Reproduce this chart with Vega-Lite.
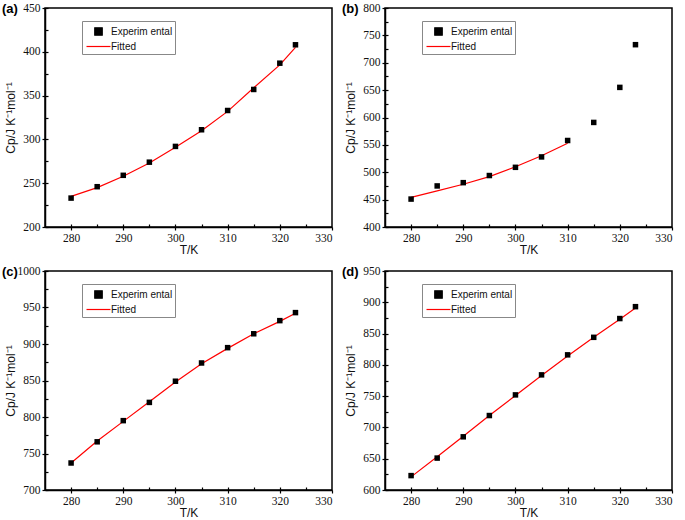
{
  "$schema": "https://vega.github.io/schema/vega-lite/v6.json",
  "padding": {"left": 1, "top": 1, "right": 5, "bottom": 2},
  "background": "white",
  "config": {
    "font": "Liberation Sans",
    "view": {"stroke": "black", "strokeWidth": 1.5},
    "axis": {
      "grid": false,
      "domainColor": "black",
      "domainWidth": 1.5,
      "tickColor": "black",
      "tickWidth": 1.2,
      "tickSize": 3,
      "labelColor": "#111",
      "labelFont": "Liberation Sans Narrow",
      "labelFontSize": 11.5,
      "titleFont": "Liberation Sans",
      "titleFontSize": 12,
      "titleFontWeight": 400,
      "titleColor": "#111"
    },
    "axisX": {"labelPadding": 2, "titlePadding": 1},
    "axisY": {"labelPadding": 2, "titlePadding": 5, "titleX": -28},
    "legend": {
      "orient": "none",
      "legendX": 37,
      "legendY": 13,
      "title": null,
      "strokeColor": "#888",
      "fillColor": "white",
      "padding": 2,
      "rowPadding": 0,
      "labelFont": "Liberation Sans",
      "labelFontSize": 10,
      "labelColor": "#111",
      "symbolSize": 225,
      "symbolStrokeWidth": 1.2,
      "symbolOffset": 6,
      "labelOffset": 4
    },
    "title": {"font": "Liberation Sans", "fontSize": 13, "fontWeight": "bold", "anchor": "start", "frame": "group", "baseline": "alphabetic", "offset": -14, "dx": -43}
  },
  "data": {
    "values": [
      {"panel": "a", "series": "Experim ental", "T": 280, "Cp": 233},
      {"panel": "a", "series": "Experim ental", "T": 285, "Cp": 246},
      {"panel": "a", "series": "Experim ental", "T": 290, "Cp": 259},
      {"panel": "a", "series": "Experim ental", "T": 295, "Cp": 274},
      {"panel": "a", "series": "Experim ental", "T": 300, "Cp": 292},
      {"panel": "a", "series": "Experim ental", "T": 305, "Cp": 311},
      {"panel": "a", "series": "Experim ental", "T": 310, "Cp": 333},
      {"panel": "a", "series": "Experim ental", "T": 315, "Cp": 357},
      {"panel": "a", "series": "Experim ental", "T": 320, "Cp": 387},
      {"panel": "a", "series": "Experim ental", "T": 323, "Cp": 408},
      {"panel": "a", "series": "Fitted", "T": 280, "Cp": 235},
      {"panel": "a", "series": "Fitted", "T": 285, "Cp": 245},
      {"panel": "a", "series": "Fitted", "T": 290, "Cp": 258},
      {"panel": "a", "series": "Fitted", "T": 295, "Cp": 273},
      {"panel": "a", "series": "Fitted", "T": 300, "Cp": 291},
      {"panel": "a", "series": "Fitted", "T": 305, "Cp": 310},
      {"panel": "a", "series": "Fitted", "T": 310, "Cp": 332},
      {"panel": "a", "series": "Fitted", "T": 315, "Cp": 359},
      {"panel": "a", "series": "Fitted", "T": 320, "Cp": 385},
      {"panel": "a", "series": "Fitted", "T": 323, "Cp": 405},
      {"panel": "b", "series": "Experim ental", "T": 280, "Cp": 451},
      {"panel": "b", "series": "Experim ental", "T": 285, "Cp": 475},
      {"panel": "b", "series": "Experim ental", "T": 290, "Cp": 481},
      {"panel": "b", "series": "Experim ental", "T": 295, "Cp": 494},
      {"panel": "b", "series": "Experim ental", "T": 300, "Cp": 509},
      {"panel": "b", "series": "Experim ental", "T": 305, "Cp": 528},
      {"panel": "b", "series": "Experim ental", "T": 310, "Cp": 558},
      {"panel": "b", "series": "Experim ental", "T": 315, "Cp": 591},
      {"panel": "b", "series": "Experim ental", "T": 320, "Cp": 655},
      {"panel": "b", "series": "Experim ental", "T": 323, "Cp": 733},
      {"panel": "b", "series": "Fitted", "T": 280, "Cp": 454},
      {"panel": "b", "series": "Fitted", "T": 285, "Cp": 466},
      {"panel": "b", "series": "Fitted", "T": 290, "Cp": 478},
      {"panel": "b", "series": "Fitted", "T": 295, "Cp": 492},
      {"panel": "b", "series": "Fitted", "T": 300, "Cp": 510},
      {"panel": "b", "series": "Fitted", "T": 305, "Cp": 530},
      {"panel": "b", "series": "Fitted", "T": 310, "Cp": 553},
      {"panel": "c", "series": "Experim ental", "T": 280, "Cp": 737},
      {"panel": "c", "series": "Experim ental", "T": 285, "Cp": 766},
      {"panel": "c", "series": "Experim ental", "T": 290, "Cp": 795},
      {"panel": "c", "series": "Experim ental", "T": 295, "Cp": 820},
      {"panel": "c", "series": "Experim ental", "T": 300, "Cp": 849},
      {"panel": "c", "series": "Experim ental", "T": 305, "Cp": 874},
      {"panel": "c", "series": "Experim ental", "T": 310, "Cp": 895},
      {"panel": "c", "series": "Experim ental", "T": 315, "Cp": 914},
      {"panel": "c", "series": "Experim ental", "T": 320, "Cp": 932},
      {"panel": "c", "series": "Experim ental", "T": 323, "Cp": 943},
      {"panel": "c", "series": "Fitted", "T": 280, "Cp": 737},
      {"panel": "c", "series": "Fitted", "T": 285, "Cp": 767},
      {"panel": "c", "series": "Fitted", "T": 290, "Cp": 794},
      {"panel": "c", "series": "Fitted", "T": 295, "Cp": 821},
      {"panel": "c", "series": "Fitted", "T": 300, "Cp": 848},
      {"panel": "c", "series": "Fitted", "T": 305, "Cp": 873},
      {"panel": "c", "series": "Fitted", "T": 310, "Cp": 894},
      {"panel": "c", "series": "Fitted", "T": 315, "Cp": 914},
      {"panel": "c", "series": "Fitted", "T": 320, "Cp": 931},
      {"panel": "c", "series": "Fitted", "T": 323, "Cp": 942},
      {"panel": "d", "series": "Experim ental", "T": 280, "Cp": 623},
      {"panel": "d", "series": "Experim ental", "T": 285, "Cp": 651},
      {"panel": "d", "series": "Experim ental", "T": 290, "Cp": 685},
      {"panel": "d", "series": "Experim ental", "T": 295, "Cp": 719},
      {"panel": "d", "series": "Experim ental", "T": 300, "Cp": 752},
      {"panel": "d", "series": "Experim ental", "T": 305, "Cp": 784},
      {"panel": "d", "series": "Experim ental", "T": 310, "Cp": 816},
      {"panel": "d", "series": "Experim ental", "T": 315, "Cp": 844},
      {"panel": "d", "series": "Experim ental", "T": 320, "Cp": 874},
      {"panel": "d", "series": "Experim ental", "T": 323, "Cp": 893},
      {"panel": "d", "series": "Fitted", "T": 280, "Cp": 621},
      {"panel": "d", "series": "Fitted", "T": 285, "Cp": 653},
      {"panel": "d", "series": "Fitted", "T": 290, "Cp": 686},
      {"panel": "d", "series": "Fitted", "T": 295, "Cp": 719},
      {"panel": "d", "series": "Fitted", "T": 300, "Cp": 751},
      {"panel": "d", "series": "Fitted", "T": 305, "Cp": 783},
      {"panel": "d", "series": "Fitted", "T": 310, "Cp": 814},
      {"panel": "d", "series": "Fitted", "T": 315, "Cp": 844},
      {"panel": "d", "series": "Fitted", "T": 320, "Cp": 873},
      {"panel": "d", "series": "Fitted", "T": 323, "Cp": 891}
    ]
  },
  "columns": 2,
  "spacing": {"row": 44, "column": 53},
  "bounds": "flush",
  "concat": [
    {
      "width": 287, "height": 219,
      "title": {"text": "(a)"},
      "transform": [{"filter": "datum.panel === 'a'"}],
      "encoding": {
        "x": {"field": "T", "type": "quantitative", "scale": {"domain": [275, 330], "nice": false}, "axis": {"orient": "bottom", "values": [280, 290, 300, 310, 320, 330], "title": "T/K"}},
        "y": {"field": "Cp", "type": "quantitative", "scale": {"domain": [200, 450], "nice": false, "zero": false}, "axis": {"orient": "left", "values": [200, 250, 300, 350, 400, 450], "format": "d", "title": "Cp/J K⁻¹mol⁻¹"}},
        "color": {"field": "series", "type": "nominal", "scale": {"domain": ["Experim ental", "Fitted"], "range": ["black", "#ff0000"]}}
      },
      "layer": [
        {"transform": [{"filter": "datum.series === 'Fitted'"}], "mark": {"type": "line", "strokeWidth": 1.2}},
        {"transform": [{"filter": "datum.series !== 'Fitted'"}], "mark": {"type": "point", "filled": true, "opacity": 1, "size": 121},
         "encoding": {
           "x": {"field": "T", "type": "quantitative", "axis": null},
           "y": {"field": "Cp", "type": "quantitative", "axis": null},
           "shape": {"field": "series", "type": "nominal", "scale": {"domain": ["Experim ental", "Fitted"], "range": ["M-0.5,-0.5H0.5V0.5H-0.5Z", "M-1.6,0H1.6"]}}}},
        {"transform": [{"filter": "datum.series !== 'Fitted'"}], "mark": {"type": "point", "opacity": 0},
         "encoding": {
           "x": {"field": "T", "type": "quantitative", "axis": {"orient": "bottom", "values": [280, 285, 290, 295, 300, 305, 310, 315, 320, 325], "tickSize": -3, "labels": false, "domain": false, "title": null}},
           "y": {"field": "Cp", "type": "quantitative", "axis": {"orient": "left", "values": [200, 225, 250, 275, 300, 325, 350, 375, 400, 425, 450], "tickSize": -3, "labels": false, "domain": false, "title": null}}
         }}
      ],
      "resolve": {"axis": {"x": "independent", "y": "independent"}}
    },
    {
      "width": 287, "height": 219,
      "title": {"text": "(b)"},
      "transform": [{"filter": "datum.panel === 'b'"}],
      "encoding": {
        "x": {"field": "T", "type": "quantitative", "scale": {"domain": [275, 330], "nice": false}, "axis": {"orient": "bottom", "values": [280, 290, 300, 310, 320, 330], "title": "T/K"}},
        "y": {"field": "Cp", "type": "quantitative", "scale": {"domain": [400, 800], "nice": false, "zero": false}, "axis": {"orient": "left", "values": [400, 450, 500, 550, 600, 650, 700, 750, 800], "format": "d", "title": "Cp/J K⁻¹mol⁻¹"}},
        "color": {"field": "series", "type": "nominal", "scale": {"domain": ["Experim ental", "Fitted"], "range": ["black", "#ff0000"]}}
      },
      "layer": [
        {"transform": [{"filter": "datum.series === 'Fitted'"}], "mark": {"type": "line", "strokeWidth": 1.2}},
        {"transform": [{"filter": "datum.series !== 'Fitted'"}], "mark": {"type": "point", "filled": true, "opacity": 1, "size": 121},
         "encoding": {
           "x": {"field": "T", "type": "quantitative", "axis": null},
           "y": {"field": "Cp", "type": "quantitative", "axis": null},
           "shape": {"field": "series", "type": "nominal", "scale": {"domain": ["Experim ental", "Fitted"], "range": ["M-0.5,-0.5H0.5V0.5H-0.5Z", "M-1.6,0H1.6"]}}}},
        {"transform": [{"filter": "datum.series !== 'Fitted'"}], "mark": {"type": "point", "opacity": 0},
         "encoding": {
           "x": {"field": "T", "type": "quantitative", "axis": {"orient": "bottom", "values": [280, 285, 290, 295, 300, 305, 310, 315, 320, 325], "tickSize": -3, "labels": false, "domain": false, "title": null}},
           "y": {"field": "Cp", "type": "quantitative", "axis": {"orient": "left", "values": [400, 425, 450, 475, 500, 525, 550, 575, 600, 625, 650, 675, 700, 725, 750, 775, 800], "tickSize": -3, "labels": false, "domain": false, "title": null}}
         }}
      ],
      "resolve": {"axis": {"x": "independent", "y": "independent"}}
    },
    {
      "width": 287, "height": 219,
      "title": {"text": "(c)"},
      "transform": [{"filter": "datum.panel === 'c'"}],
      "encoding": {
        "x": {"field": "T", "type": "quantitative", "scale": {"domain": [275, 330], "nice": false}, "axis": {"orient": "bottom", "values": [280, 290, 300, 310, 320, 330], "title": "T/K"}},
        "y": {"field": "Cp", "type": "quantitative", "scale": {"domain": [700, 1000], "nice": false, "zero": false}, "axis": {"orient": "left", "values": [700, 750, 800, 850, 900, 950, 1000], "format": "d", "title": "Cp/J K⁻¹mol⁻¹"}},
        "color": {"field": "series", "type": "nominal", "scale": {"domain": ["Experim ental", "Fitted"], "range": ["black", "#ff0000"]}}
      },
      "layer": [
        {"transform": [{"filter": "datum.series === 'Fitted'"}], "mark": {"type": "line", "strokeWidth": 1.2}},
        {"transform": [{"filter": "datum.series !== 'Fitted'"}], "mark": {"type": "point", "filled": true, "opacity": 1, "size": 121},
         "encoding": {
           "x": {"field": "T", "type": "quantitative", "axis": null},
           "y": {"field": "Cp", "type": "quantitative", "axis": null},
           "shape": {"field": "series", "type": "nominal", "scale": {"domain": ["Experim ental", "Fitted"], "range": ["M-0.5,-0.5H0.5V0.5H-0.5Z", "M-1.6,0H1.6"]}}}},
        {"transform": [{"filter": "datum.series !== 'Fitted'"}], "mark": {"type": "point", "opacity": 0},
         "encoding": {
           "x": {"field": "T", "type": "quantitative", "axis": {"orient": "bottom", "values": [280, 285, 290, 295, 300, 305, 310, 315, 320, 325], "tickSize": -3, "labels": false, "domain": false, "title": null}},
           "y": {"field": "Cp", "type": "quantitative", "axis": {"orient": "left", "values": [700, 725, 750, 775, 800, 825, 850, 875, 900, 925, 950, 975, 1000], "tickSize": -3, "labels": false, "domain": false, "title": null}}
         }}
      ],
      "resolve": {"axis": {"x": "independent", "y": "independent"}}
    },
    {
      "width": 287, "height": 219,
      "title": {"text": "(d)"},
      "transform": [{"filter": "datum.panel === 'd'"}],
      "encoding": {
        "x": {"field": "T", "type": "quantitative", "scale": {"domain": [275, 330], "nice": false}, "axis": {"orient": "bottom", "values": [280, 290, 300, 310, 320, 330], "title": "T/K"}},
        "y": {"field": "Cp", "type": "quantitative", "scale": {"domain": [600, 950], "nice": false, "zero": false}, "axis": {"orient": "left", "values": [600, 650, 700, 750, 800, 850, 900, 950], "format": "d", "title": "Cp/J K⁻¹mol⁻¹"}},
        "color": {"field": "series", "type": "nominal", "scale": {"domain": ["Experim ental", "Fitted"], "range": ["black", "#ff0000"]}}
      },
      "layer": [
        {"transform": [{"filter": "datum.series === 'Fitted'"}], "mark": {"type": "line", "strokeWidth": 1.2}},
        {"transform": [{"filter": "datum.series !== 'Fitted'"}], "mark": {"type": "point", "filled": true, "opacity": 1, "size": 121},
         "encoding": {
           "x": {"field": "T", "type": "quantitative", "axis": null},
           "y": {"field": "Cp", "type": "quantitative", "axis": null},
           "shape": {"field": "series", "type": "nominal", "scale": {"domain": ["Experim ental", "Fitted"], "range": ["M-0.5,-0.5H0.5V0.5H-0.5Z", "M-1.6,0H1.6"]}}}},
        {"transform": [{"filter": "datum.series !== 'Fitted'"}], "mark": {"type": "point", "opacity": 0},
         "encoding": {
           "x": {"field": "T", "type": "quantitative", "axis": {"orient": "bottom", "values": [280, 285, 290, 295, 300, 305, 310, 315, 320, 325], "tickSize": -3, "labels": false, "domain": false, "title": null}},
           "y": {"field": "Cp", "type": "quantitative", "axis": {"orient": "left", "values": [600, 625, 650, 675, 700, 725, 750, 775, 800, 825, 850, 875, 900, 925, 950], "tickSize": -3, "labels": false, "domain": false, "title": null}}
         }}
      ],
      "resolve": {"axis": {"x": "independent", "y": "independent"}}
    }
  ],
  "resolve": {"scale": {"color": "independent", "shape": "independent"}, "legend": {"color": "independent", "shape": "independent"}}
}
